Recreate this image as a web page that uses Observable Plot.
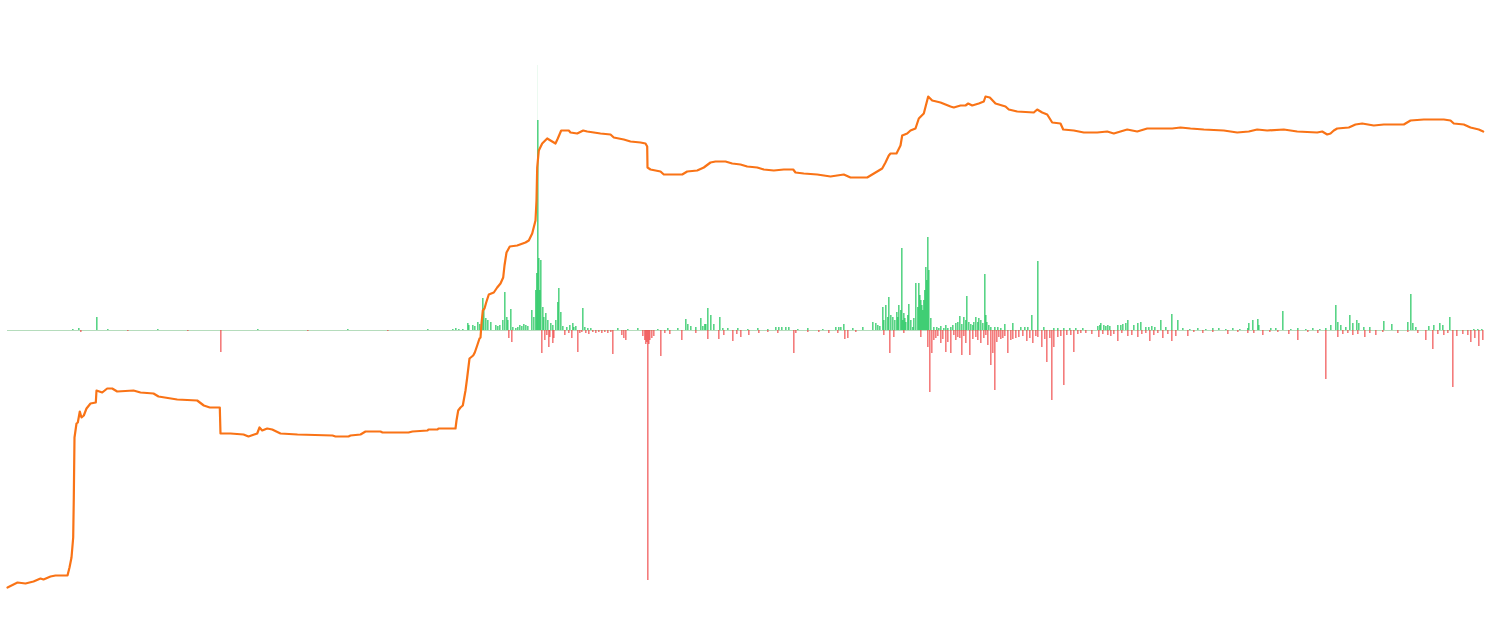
<!DOCTYPE html>
<html>
<head>
<meta charset="utf-8">
<script src="https://cdn.jsdelivr.net/npm/d3@7"></script>
<script src="https://cdn.jsdelivr.net/npm/@observablehq/plot@0.6"></script>
<style>
  html, body { margin: 0; padding: 0; background: #ffffff; }
  #wrap { position: relative; width: 1490px; height: 633px; }
  #wrap > svg { position: absolute; left: 0; top: 0; }
</style>
</head>
<body>
<div id="wrap"></div>
<script>
// Cumulative balance line: [day, value]
const balance = [
  [0,0],[10,5],[18,4],[26,6],[33,9],[36,8],[43,11],[48,12],[60,12],[62,20],[64,30],[65.7,50],[66.3,90],[67,150],
  [69,164],[70.3,165],[72.3,176],[74,170],[76.3,172],[79,179],[83,184],[88.3,185],[89,197],[94.7,195],[99.7,199],
  [104.7,199],[109.7,196],[126,197],[133,195],[146,194],[151,191],[169.7,188],[189.7,187],[196.3,182],[202.3,180],
  [212.3,180],[213,154],[223,154],[236,153],[241,151],[249.7,154],[252,160],[254.7,157],[259.7,159],[264.7,158],
  [273,154],[290,153],[325,152],[328,151],[341,151],[343,152],[353,153],[358,156],[373,156],[375,155],[401,155],
  [405,156],[420,157],[421,158],[430,158],[431,159],[448,159],[449,167],[450.7,177],[453,180],[455.3,182],[458,197],
  [459.7,210],[462,229],[465.7,232],[467.3,235],[469.7,242],[472,249],[473,250],[474,264],[475.3,277],[477,279],
  [478.7,285],[481.3,293],[486.3,295],[489.7,300],[493,304],[495.7,310],[497,322],[499,335],[502.3,341],[509.7,342],
  [518,345],[521.3,347],[524.7,354],[528,367],[529,387],[529.7,420],[531.3,437],[534.7,444],[539.7,449],[543,447],
  [548,444],[550.3,449],[553.7,457],[561.3,457],[563,455],[569.7,454],[575.7,457],[579.7,456],[593,454],[603,453],
  [606.3,450],[616.3,448],[623,446],[633,445],[638,444],[639.7,441],[640,420],[643,418],[653,416],[656.3,413],
  [674.7,413],[679.7,416],[689.7,417],[696.3,420],[703,425],[708,426],[718,426],[724.7,424],[733,423],[739.7,421],
  [749.7,420],[756.3,418],[766.3,417],[776.3,418],[785.7,418],[788,415],[796.3,414],[809.7,413],[823,411],[836.3,413],
  [843,410],[859.7,410],[864.7,413],[869.7,416],[874.7,419],[878,425],[881.3,432],[883,434],[889,434],[893,442],
  [894.7,452],[899.7,454],[903,457],[908,459],[911.3,469],[916.3,474],[920.7,491],[924.7,487],[933,485],[943,481],
  [946.3,480],[953,482],[958,482],[960.7,484],[964.7,482],[971.3,484],[976.3,486],[978,491],[982.3,490],[988,484],
  [998,481],[1001.3,478],[1009.7,476],[1026.3,475],[1029.7,478],[1034.7,475],[1039.7,473],[1044.7,465],[1053,464],
  [1055.7,458],[1066.3,457],[1076.3,455],[1089.7,455],[1099.7,456],[1106.3,454],[1119.7,458],[1129.7,456],[1139.7,459],
  [1159.7,459],[1164.7,459],[1173,460],[1183,459],[1196.3,458],[1216.3,457],[1229.7,455],[1241.3,456],[1249.7,458],
  [1259.7,457],[1276.3,458],[1289.7,456],[1309.7,455],[1314.7,456],[1319.7,453],[1323,454],[1326.3,457],[1329.7,459],
  [1341.3,460],[1348,463],[1354.7,464],[1366.3,462],[1376.3,463],[1386.3,463],[1396.3,463],[1403,467],[1416.3,468],
  [1423,468],[1436.3,468],[1443,467],[1446.3,464],[1456.3,463],[1463,460],[1471.3,458],[1475.7,456]
];

// Daily inflows (positive): [day, value]
const inflows = [
  [65,1],[71,2],[89,13],[100,1],[150,1],[250,1],[340,1],[420,1],
  [445,1],[448,2],[451,1],[455,1],[460,7],[461,5],[465,5],[467,4],[470,8],[472,6],[475,32],[476,22],[478,12],[480,10],
  [483,8],[488,5],[490,4],[492,5],[495,10],[497,38],[499,13],[500,10],[503,21],[505,3],[508,2],[510,3],[512,5],[514,4],
  [516,6],[518,5],[520,4],[524,20],[526,13],[528,40],[529,57],[530,210],[531,72],[532,40],[533,70],[535,23],[536,13],
  [538,17],[540,10],[543,7],[545,5],[548,10],[550,28],[551,42],[553,18],[555,4],[559,3],[562,5],[565,7],[566,3],[568,4],
  [575,22],[577,3],[580,2],[583,2],
  [610,2],[620,1],[630,2],[650,1],[660,2],[670,2],[678,11],[680,6],[683,4],[688,3],[693,12],[695,4],[697,6],[698,6],
  [700,22],[703,15],[706,6],[712,13],[715,2],[720,2],[730,2],[740,1],[750,2],[760,1],[768,3],[771,3],[774,3],[778,3],
  [781,3],[790,1],[800,2],[815,1],[828,3],[831,3],[833,3],[836,6],[845,2],
  [855,3],[865,8],[868,7],[870,5],[872,4],[875,23],[876,10],[878,25],[880,13],[881,33],[883,15],[885,13],[887,10],
  [889,18],[890,13],[891,25],[893,20],[894,82],[895,10],[896,17],[897,12],[898,8],[900,15],[901,26],[903,10],[905,3],
  [906,12],[908,47],[910,23],[911,47],[912,35],[913,30],[914,25],[915,20],[916,30],[917,40],[918,63],[919,50],[920,93],
  [921,60],[923,12],[926,3],[929,3],[931,2],[933,4],[936,2],[938,5],[940,2],[943,3],[945,5],[948,7],[950,8],[952,14],
  [954,6],[956,13],[958,10],[959,34],[961,8],[963,6],[965,5],[966,8],[968,13],[970,8],[971,12],[973,10],[975,7],
  [977,56],[978,15],[979,8],[981,5],[983,3],[987,3],[990,3],[993,2],[997,6],[1005,7],[1013,3],[1017,3],[1020,3],
  [1024,15],[1030,69],[1036,3],[1046,2],[1050,2],[1056,2],[1062,2],[1068,2],[1075,2],
  [1090,4],[1092,5],[1093,7],[1096,5],[1098,4],[1100,5],[1102,4],[1110,5],[1113,5],[1115,6],[1118,7],[1120,10],
  [1126,5],[1130,7],[1133,8],[1138,3],[1141,3],[1144,4],[1147,3],[1153,10],[1158,3],[1164,16],[1170,10],[1175,2],
  [1182,1],[1190,2],[1198,1],[1205,2],[1211,2],[1218,1],[1225,2],[1232,1],[1240,2],[1241,7],[1245,10],[1250,11],
  [1251,5],[1263,2],[1268,2],[1275,19],[1283,1],[1290,2],[1298,1],[1305,2],[1312,1],[1318,2],[1323,5],[1328,25],
  [1330,8],[1333,5],[1338,3],[1342,15],[1345,7],[1349,10],[1351,7],[1356,3],[1362,3],[1376,9],[1384,6],[1400,8],
  [1403,36],[1405,7],[1408,3],[1421,4],[1426,5],[1432,7],[1435,5],[1442,13],[1466,1],[1470,1],[1474,1]
];

// Daily outflows (negative): [day, value]
const outflows = [
  [73,-2],[120,-1],[180,-1],[213,-22],[300,-1],[380,-1],
  [501,-8],[504,-12],[534,-23],[537,-10],[539,-5],[541,-17],[542,-7],[545,-13],[546,-8],[557,-5],[561,-3],[564,-8],
  [570,-22],[572,-3],[574,-2],[578,-3],[581,-4],[585,-2],[588,-3],[591,-2],[594,-3],[597,-2],[600,-3],[603,-2],
  [605,-24],[614,-5],[616,-8],[618,-10],[635,-6],[637,-10],[638,-14],[639,-12],[640,-250],[641,-14],[642,-10],
  [644,-8],[646,-6],[653,-26],[657,-3],[662,-4],[674,-10],[688,-3],[700,-9],[711,-9],[716,-5],[725,-11],[729,-4],
  [733,-7],[741,-5],[751,-3],[760,-2],[770,-3],[786,-23],[788,-3],[800,-2],[811,-2],[821,-3],[830,-3],[837,-9],
  [840,-8],[848,-2],
  [876,-5],[882,-23],[886,-7],[896,-3],[913,-7],[920,-17],[922,-62],[924,-23],[926,-10],[928,-8],[930,-6],[933,-13],
  [935,-9],[938,-22],[940,-12],[943,-23],[946,-5],[948,-10],[950,-7],[952,-8],[954,-25],[956,-6],[958,-13],[962,-25],
  [965,-9],[968,-7],[970,-10],[973,-13],[976,-8],[978,-5],[980,-15],[983,-35],[985,-23],[987,-60],[989,-12],[991,-7],
  [993,-9],[995,-8],[997,-6],[1000,-23],[1003,-10],[1005,-9],[1008,-8],[1011,-7],[1015,-6],[1019,-11],[1022,-8],
  [1025,-13],[1028,-6],[1030,-7],[1034,-17],[1037,-9],[1039,-32],[1042,-8],[1044,-70],[1046,-17],[1050,-7],[1053,-6],
  [1056,-55],[1059,-5],[1063,-5],[1066,-22],[1070,-4],[1073,-3],[1078,-3],[1084,-4],
  [1091,-7],[1095,-4],[1100,-5],[1103,-6],[1106,-4],[1110,-11],[1114,-3],[1120,-6],[1124,-5],[1130,-7],[1134,-4],
  [1138,-3],[1142,-11],[1146,-5],[1150,-3],[1155,-8],[1160,-4],[1164,-11],[1168,-6],[1180,-6],[1186,-2],[1195,-3],
  [1205,-2],[1220,-4],[1230,-2],[1240,-3],[1246,-3],[1255,-5],[1262,-2],[1270,-2],[1281,-4],[1290,-10],[1300,-2],
  [1310,-3],[1318,-49],[1330,-7],[1335,-4],[1340,-3],[1345,-5],[1350,-4],[1357,-7],[1362,-3],[1368,-5],[1375,-2],
  [1390,-3],[1400,-2],[1410,-3],[1418,-10],[1425,-19],[1430,-4],[1436,-5],[1440,-3],[1445,-57],[1449,-6],[1455,-4],
  [1460,-5],[1463,-12],[1467,-8],[1471,-16],[1475,-10]
];

// Faint tip of the largest inflow spike
const spikeTip = [[530, 265]];

const dayDomain = [0, 1476];
const W = 1490, H = 633;
const green = "#22c55e", red = "#ef4444", orange = "#f97316";
const barSpan = 1.6;

const flowsPlot = Plot.plot({
  width: W, height: H,
  marginLeft: 7, marginRight: 7, marginTop: 60, marginBottom: 43,
  x: {domain: dayDomain, axis: null},
  y: {domain: [-260, 270], axis: null},
  marks: [
    Plot.ruleY([0], {stroke: "#b5dcbc", strokeWidth: 1}),
    Plot.rect(spikeTip, {x1: d => d[0], x2: d => d[0] + 0.6, y1: 0, y2: d => d[1], fill: green, fillOpacity: 0.15}),
    Plot.rect(inflows, {x1: d => d[0], x2: d => d[0] + barSpan, y1: 0, y2: d => d[1], fill: green, fillOpacity: 0.75}),
    Plot.rect(outflows, {x1: d => d[0], x2: d => d[0] + barSpan, y1: 0, y2: d => d[1], fill: red, fillOpacity: 0.7})
  ]
});

const linePlot = Plot.plot({
  width: W, height: H,
  marginLeft: 7, marginRight: 7, marginTop: 87, marginBottom: 46,
  x: {domain: dayDomain, axis: null},
  y: {domain: [0, 500], axis: null},
  marks: [
    Plot.line(balance, {x: d => d[0], y: d => d[1], stroke: orange, strokeWidth: 2.2})
  ]
});
linePlot.style.background = "transparent";
flowsPlot.style.background = "#ffffff";

const wrap = document.getElementById("wrap");
wrap.appendChild(flowsPlot);
wrap.appendChild(linePlot);
</script>
</body>
</html>
